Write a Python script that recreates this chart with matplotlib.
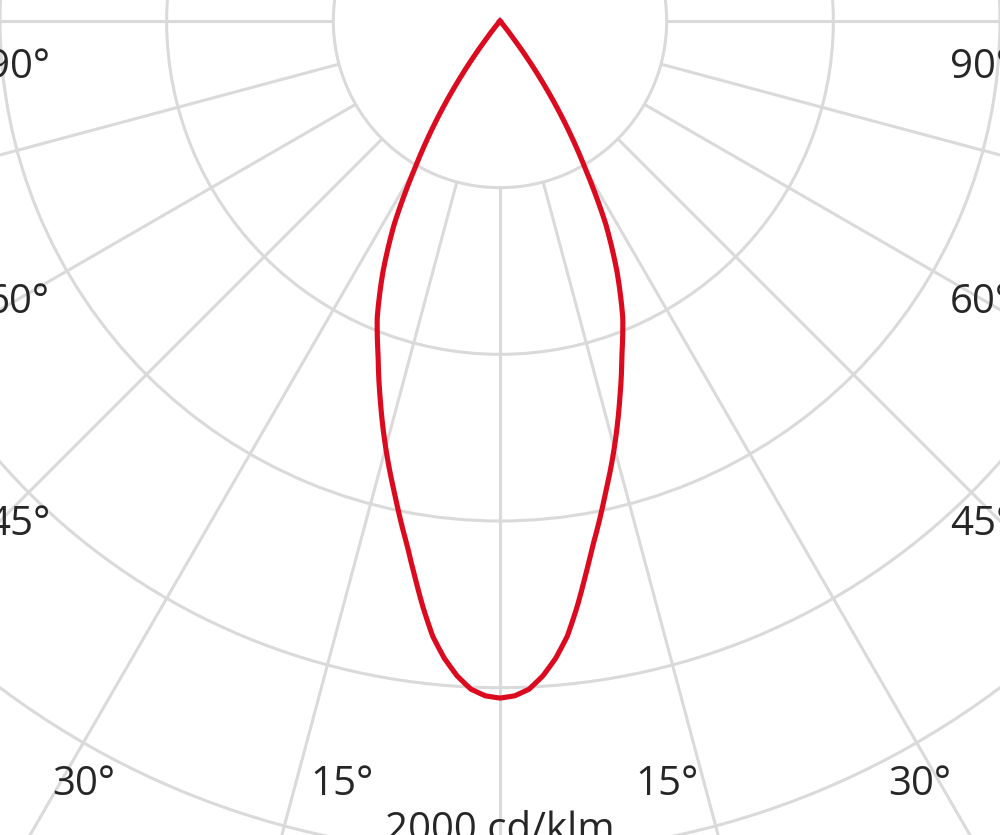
import numpy as np
import matplotlib.pyplot as plt

# Polar light distribution (C0-C180 plane), angles from nadir in degrees
angles_deg = [-40, -37.5, -35, -32.5, -30, -27.5, -25, -22.5, -20, -17.5, -15, -12.5,
              -10, -8.75, -7.5, -6.25, -5, -3.75, -2.5, -1.25,
              0,
              1.25, 2.5, 3.75, 5, 6.25, 7.5, 8.75, 10,
              12.5, 15, 17.5, 20, 22.5, 25, 27.5, 30, 32.5, 35, 37.5, 40]
intensity = [0, 55, 170, 290, 410, 550, 665, 770, 855, 955, 1060, 1165,
             1280, 1347, 1418, 1485, 1535, 1575, 1605, 1620,
             1625,
             1620, 1605, 1575, 1535, 1485, 1418, 1347, 1280,
             1165, 1060, 955, 855, 770, 665, 550, 410, 290, 170, 55, 0]

ring_values = [400, 800, 1200, 1600, 2000]
spoke_step_deg = 15
unit_label = "2000 cd/klm"

W, H = 1000, 835
fig = plt.figure(figsize=(W / 100, H / 100), dpi=100)

# polar axes: centre at pixel (500, 21 from top); r=2400 -> 1000 px
cx, cy = 500, H - 21
Rpx = 1000
ax = fig.add_axes([(cx - Rpx) / W, (cy - Rpx) / H, 2 * Rpx / W, 2 * Rpx / H], projection='polar')
ax.set_theta_zero_location('S')
ax.set_ylim(0, 2400)
ax.set_rticks(ring_values)
ax.set_yticklabels([])
ax.set_xticks([])
ax.spines['polar'].set_visible(False)
grid_col = '#dadada'
ax.grid(axis='y', color=grid_col, lw=2.2)
ax.grid(axis='x', visible=False)

for a in range(0, 360, spoke_step_deg):
    t = np.deg2rad(a)
    ax.plot([t, t], [ring_values[0], 2400], color=grid_col, lw=2.2, solid_capstyle='butt', zorder=1)

line, = ax.plot(np.deg2rad(angles_deg), intensity, color='#dc0a1e', lw=3.7, zorder=3,
                solid_joinstyle='round')
# draw the curve with arcs between samples (polar interpolation), like the grid circles
line.get_path()._interpolation_steps = 50

font = dict(family=['Open Sans', 'DejaVu Sans'], size=29, color='#262626')

def ptext(x, y, s, ha):
    fig.text(x / W, (H - y) / H, s, ha=ha, va='baseline', **font)

# left side labels (partly cut by the left edge, as in the reference)
ptext(50, 78, "90°", 'right')
ptext(50, 313, "60°", 'right')
ptext(50, 535, "45°", 'right')
# right side labels (partly cut by the right edge, as in the reference)
ptext(950, 78, "90°", 'left')
ptext(950, 313, "60°", 'left')
ptext(950, 535, "45°", 'left')
# bottom labels
ptext(52, 795, "30°", 'left')
ptext(310, 795, "15°", 'left')
ptext(635, 795, "15°", 'left')
ptext(888, 795, "30°", 'left')
ptext(500, 841, unit_label, 'center')

fig.savefig('out.png', dpi=100)
